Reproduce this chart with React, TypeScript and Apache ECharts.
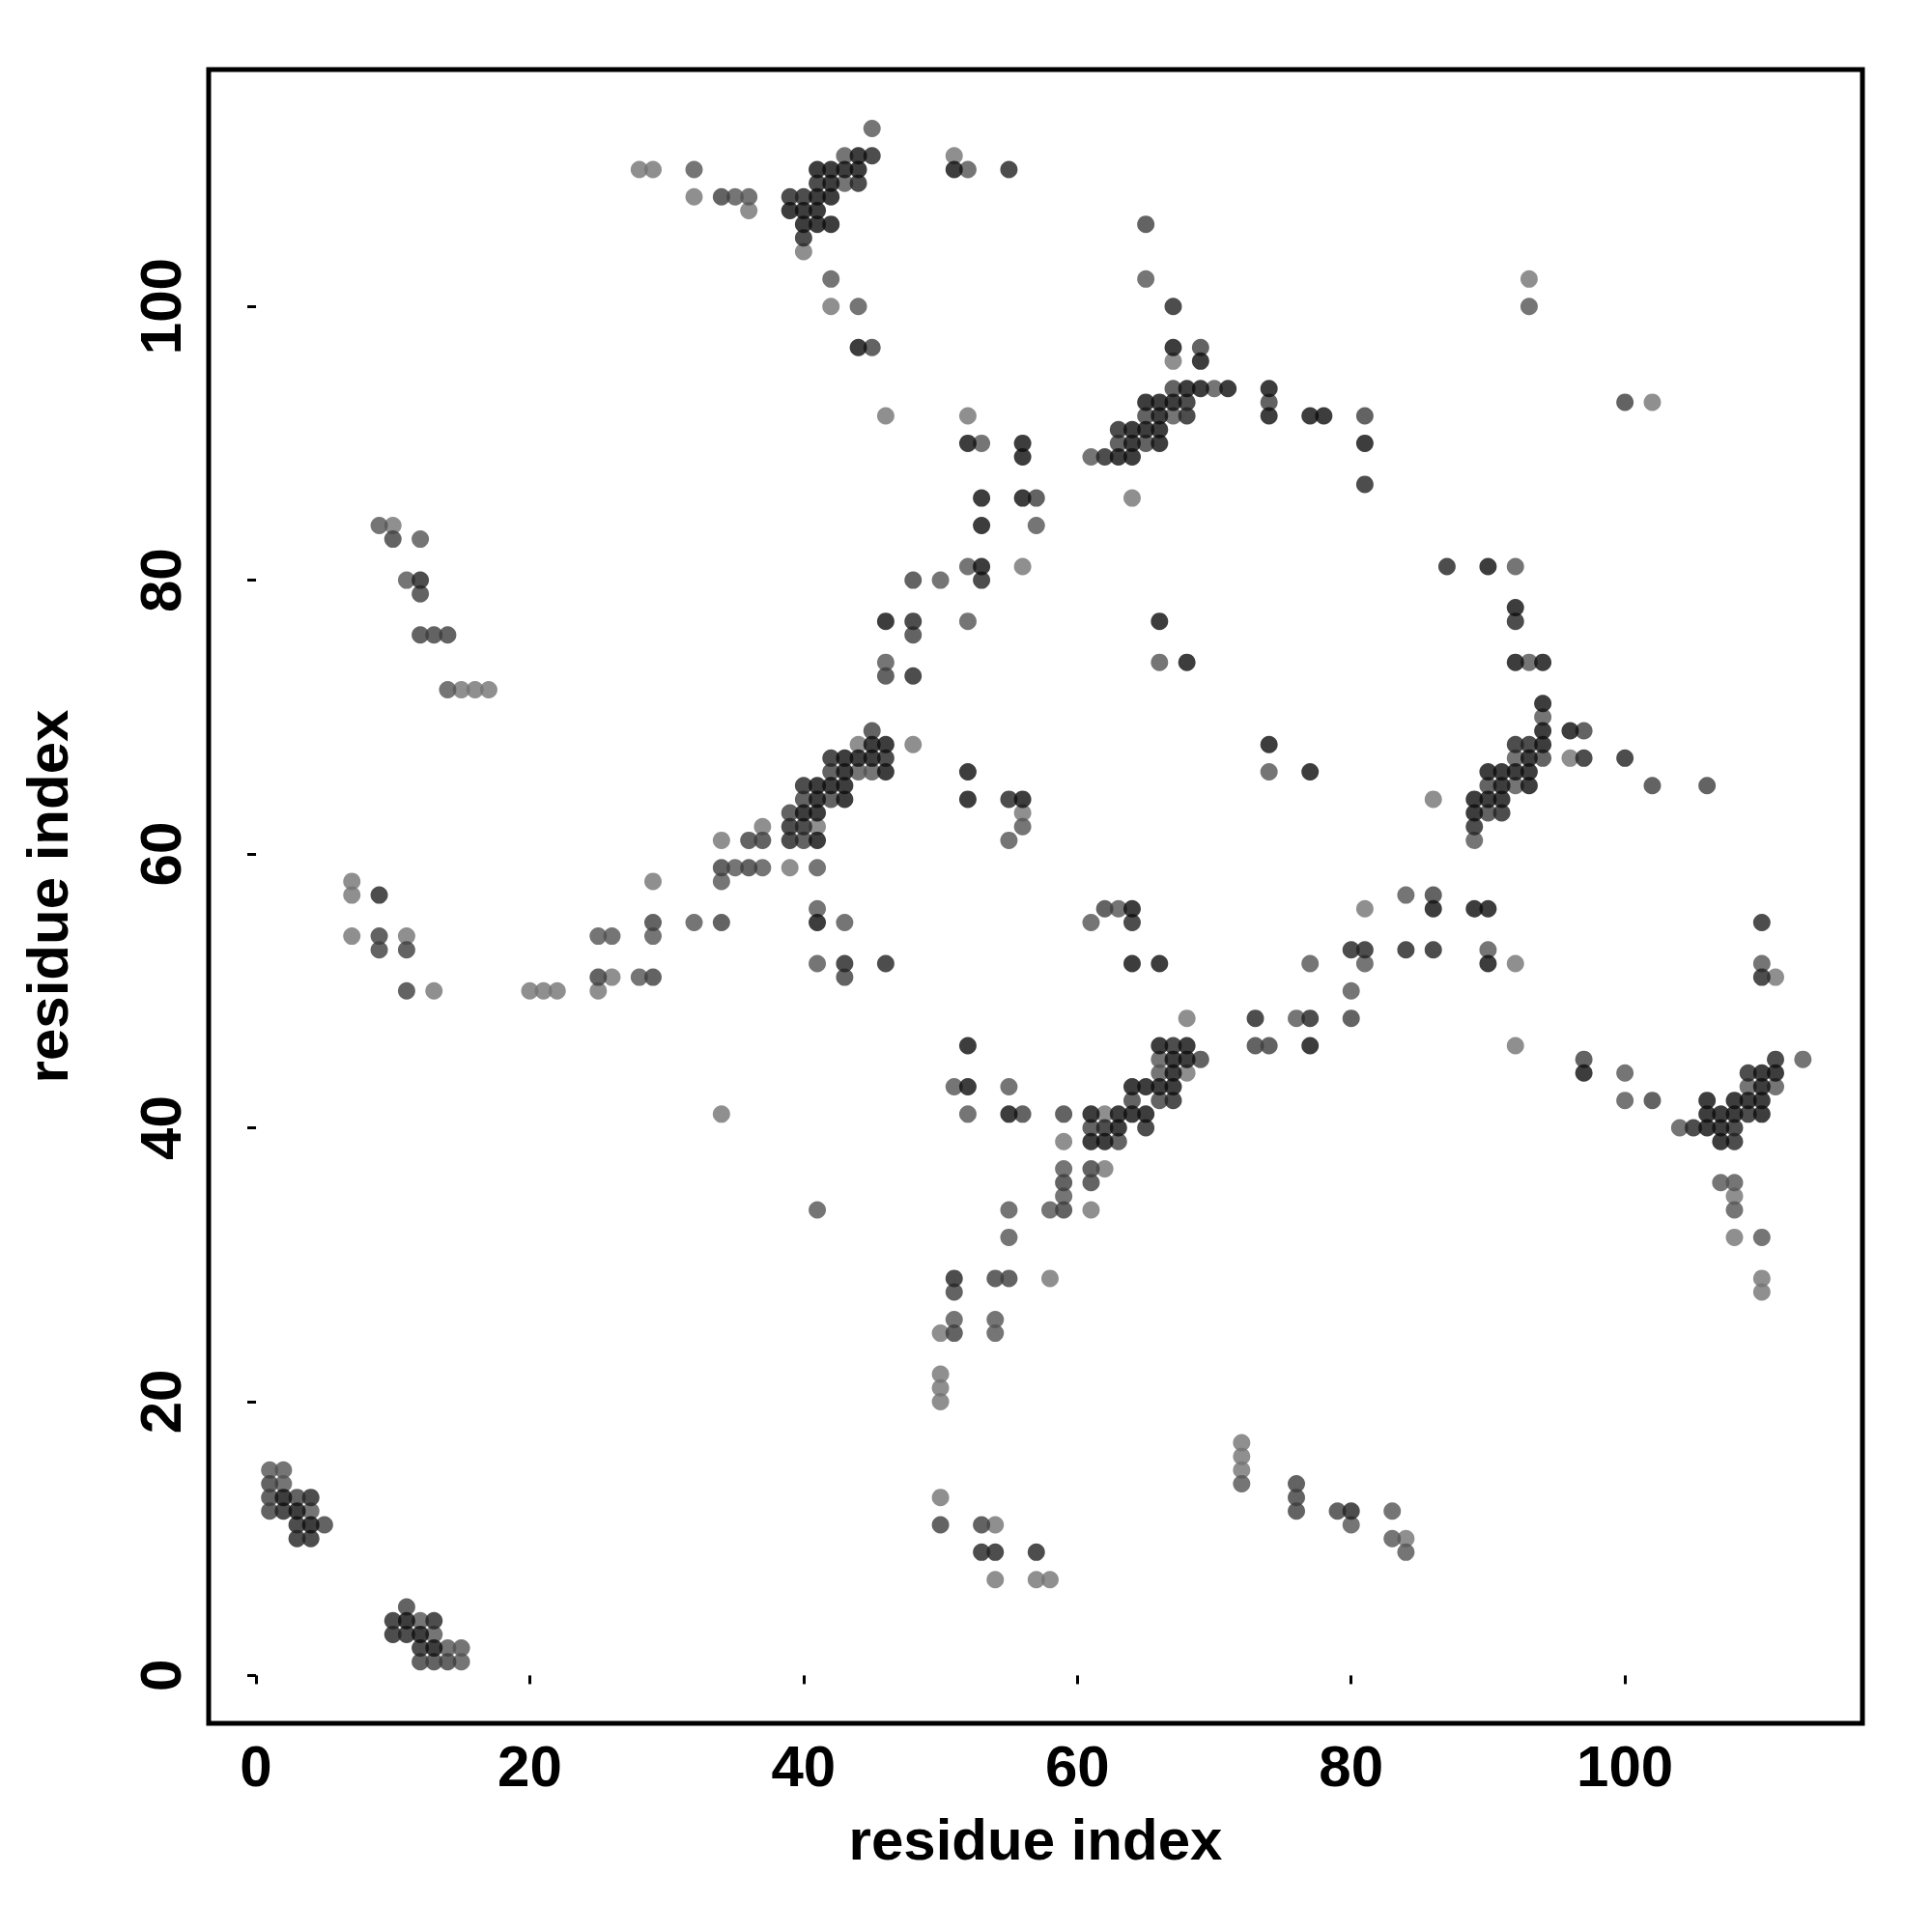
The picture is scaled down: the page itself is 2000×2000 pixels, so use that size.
import React, { useEffect, useRef } from "react";
import * as echarts from "echarts";

const blackPts = [[2,13],[3,12],[4,11],[11,4],[12,3],[13,2],
[44,111],[41,110],[42,110],[43,110],[44,110],[51,110],[42,109],[41,108],[42,108],[39,107],[40,107],[41,107],[40,106],[41,106],[42,106],[44,97],
[67,97],[69,96],[68,94],[69,94],[71,94],[65,93],[66,93],[67,93],[66,92],[64,91],[65,91],[66,91],[64,90],[66,90],[63,89],[64,89],
[74,94],[74,92],[77,92],[78,92],[81,90],[52,90],[56,90],[56,89],[53,86],[56,86],[53,84],[53,81],[46,77],[68,74],[66,77],
[45,68],[46,68],[43,67],[44,67],[45,67],[43,66],[46,66],[41,65],[42,65],[43,65],[41,64],[43,64],[40,63],[41,63],[41,61],[52,66],[52,64],[56,64],[41,55],[64,56],[64,52],[66,52],[74,68],[77,66],
[66,46],[68,46],[67,45],[68,45],[67,44],[64,43],[65,43],[66,43],[67,43],[61,41],[63,41],[64,41],[65,41],[63,40],[61,39],[62,39],[55,41],[52,46],[52,43],[77,46],[86,56],[89,56],[90,56],[90,52],[97,44],
[94,71],[94,69],[96,69],[94,68],[93,67],[90,66],[91,66],[92,66],[93,66],[91,65],[93,65],[89,64],[90,64],[91,64],[89,63],[90,81],[92,78],[92,74],[94,74],
[110,44],[111,44],[110,43],[106,42],[108,42],[109,42],[110,42],[106,41],[107,41],[108,41],[110,41],[106,40],[107,40],[107,39]];

const darkPts = [[3,11],[3,10],[4,10],[2,12],[4,13],[10,4],[13,4],[10,3],[11,3],[12,2],
[45,111],[41,109],[44,109],[39,108],[40,108],[40,105],[55,110],
[67,100],[68,93],[68,92],[63,91],[62,89],[81,87],[53,80],[48,77],[48,73],
[42,67],[46,67],[40,65],[39,62],[40,62],[39,61],[43,52],[46,52],[64,55],[55,64],
[62,40],[65,40],[67,46],[67,42],[73,48],[77,48],[80,53],[81,53],[84,53],[86,53],[80,12],[53,9],[54,9],[57,9],[9,57],[12,80],
[92,68],[93,68],[97,67],[89,62],[91,63],[92,77],[87,81],[100,67],[110,55],[110,51],[51,29],
[111,45],[109,44],[105,40],[109,41],[108,40],[108,39]];

const midPts = [[1,14],[1,13],[3,13],[1,12],[5,11],[11,5],[12,1],[13,1],[14,1],
[69,97],[67,94],[65,90],[63,90],[65,92],[74,93],[81,92],[57,86],[48,80],[48,76],[46,73],[10,83],[12,79],[12,76],[13,76],[14,76],[45,97],[34,108],[34,59],[36,61],[37,61],[36,59],
[40,64],[42,64],[39,63],[40,61],[42,66],[45,69],
[9,54],[9,53],[11,53],[11,50],[25,51],[29,51],[29,55],[34,55],[43,51],[62,56],
[64,42],[61,40],[63,39],[69,45],[66,42],[61,37],[59,41],[59,36],[61,36],[59,34],[56,41],[54,29],[55,29],[51,28],[51,25],[50,11],[53,11],[76,14],[76,13],[76,12],[79,12],[73,46],[74,46],[80,48],[86,57],[97,45],[102,42],[97,69],[94,67],[90,65],[90,63],[100,93],[106,65],[102,65],
[65,106]];

const greyPts = [[1,15],[2,15],[2,14],[4,12],[12,4],[13,3],[14,2],[15,2],[15,1],
[43,111],[45,113],[43,109],[52,110],[42,102],[32,110],[35,108],[44,100],[65,102],[36,108],
[61,89],[67,92],[70,94],[53,90],[52,81],[57,84],[52,77],[46,74],[66,74],[9,84],[11,80],[12,83],[14,72],[50,80],
[44,66],[45,66],[35,59],[37,59],[41,59],[34,58],[41,56],[43,55],[41,52],[25,54],[26,54],[28,51],[29,54],[32,55],[56,62],[55,61],[61,55],[74,66],
[66,45],[66,44],[55,43],[51,43],[52,41],[59,37],[59,35],[58,34],[55,34],[55,32],[41,34],[51,26],[54,26],[54,25],[72,14],[80,11],[83,12],[83,10],[84,9],
[76,48],[77,52],[81,52],[80,50],[84,57],[90,53],[100,44],[100,42],[113,45],[109,43],[111,43],[104,40],[107,36],[108,36],[108,34],[110,32],[110,52],[92,67],[92,65],[94,70],[89,61],[93,74],[92,81],[93,100],[63,56]];

const lightPts = [[51,111],[28,110],[29,110],[32,108],[36,107],[40,104],[42,100],[46,92],[52,92],[64,86],[67,96],[56,81],[10,84],[15,72],[16,72],[17,72],[44,68],[48,68],[41,62],[37,62],[34,61],[39,59],[7,58],[7,57],[7,54],[11,54],[13,50],[20,50],[21,50],[22,50],[26,51],[25,50],[29,58],[56,63],[34,41],[68,48],[68,44],[62,41],[62,37],[59,39],[61,34],[58,29],[50,25],[50,22],[50,21],[50,20],[50,13],[54,11],[54,7],[57,7],[58,7],[72,17],[72,16],[72,15],[84,10],[81,56],[92,52],[92,46],[86,64],[96,67],[93,102],[102,93],[108,35],[108,32],[110,29],[110,28],[111,51]];

const xTicks = [0, 20, 40, 60, 80, 100];
const yTicks = [0, 20, 40, 60, 80, 100];
const axisTitle = "residue index";
const FONT = "'Liberation Sans', Arial, sans-serif";

const layers: [number[][], string][] = [
  [lightPts, "#737373"],
  [greyPts, "#525252"],
  [midPts, "#3c3c3c"],
  [darkPts, "#212121"],
  [blackPts, "#0d0d0d"],
];

export default function App() {
  const ref = useRef<HTMLDivElement>(null);
  useEffect(() => {
    const chart = echarts.init(ref.current!, null, { renderer: "svg" });
    const axisBase = {
      type: "value",
      splitLine: { show: false },
      axisLine: { show: false },
      name: axisTitle,
      nameLocation: "middle",
      nameTextStyle: { fontFamily: FONT, fontWeight: "bold", fontSize: 60, color: "#000" },
    };
    chart.setOption({
      animation: false,
      backgroundColor: "#fff",
      grid: {
        left: 216, top: 72, width: 1712, height: 1712,
        show: true, borderColor: "#000", borderWidth: 5, backgroundColor: "transparent",
      },
      xAxis: {
        ...axisBase,
        min: -3.46, max: 117.35,
        nameGap: 90,
        axisTick: { show: true, customValues: xTicks, length: 9, lineStyle: { color: "#000", width: 3 } },
        axisLabel: { customValues: xTicks, margin: 14, fontFamily: FONT, fontWeight: "bold", fontSize: 60, color: "#000" },
      },
      yAxis: {
        ...axisBase,
        min: -3.5, max: 117.3,
        nameGap: 137,
        axisTick: { show: true, customValues: yTicks, length: 9, lineStyle: { color: "#000", width: 3 } },
        axisLabel: { customValues: yTicks, margin: 20, rotate: 90, fontFamily: FONT, fontWeight: "bold", fontSize: 60, color: "#000" },
      },
      series: layers.map(([pts, color]) => ({
        type: "scatter",
        data: pts,
        symbol: "circle",
        symbolSize: 18,
        itemStyle: { color },
        silent: true,
      })),
    });
    return () => chart.dispose();
  }, []);
  return <div ref={ref} style={{ position: "absolute", left: 0, top: 0, width: 2000, height: 2000 }} />;
}
